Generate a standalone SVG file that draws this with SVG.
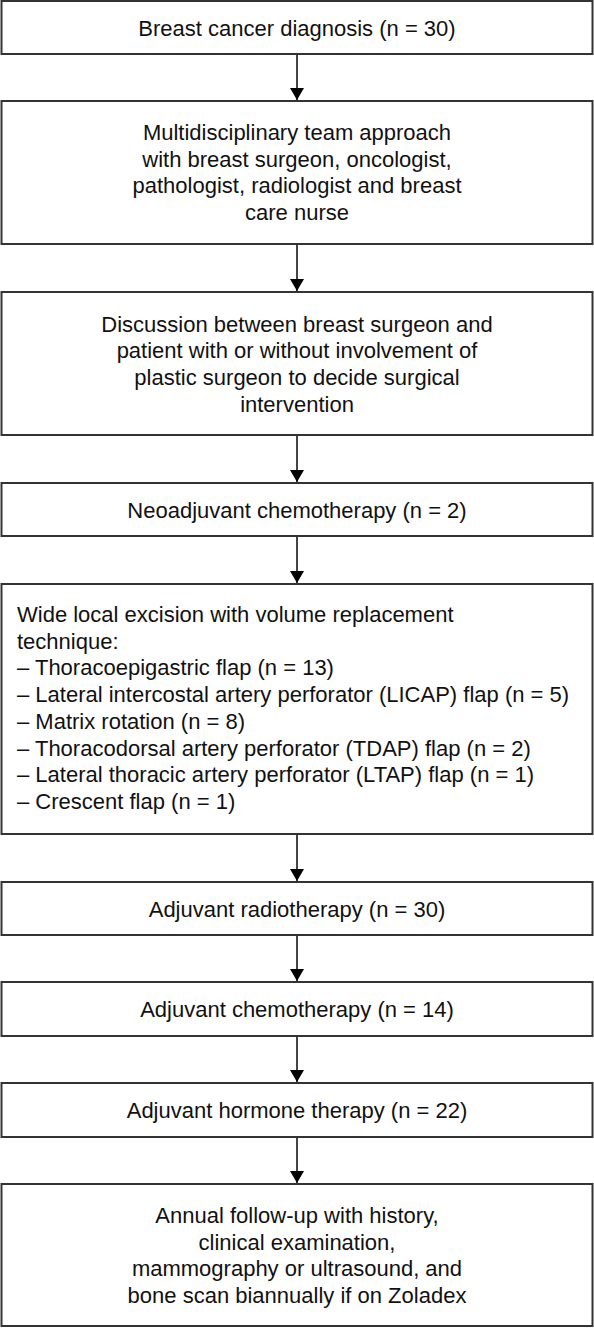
<svg xmlns="http://www.w3.org/2000/svg" width="594" height="1328" viewBox="0 0 594 1328">
  <defs>
    <style>
      .box { fill: #ffffff; stroke: #333333; stroke-width: 2; }
      .t { font-family: "Liberation Sans", Arial, sans-serif; font-size: 22px; fill: #111111; }
      .c { text-anchor: middle; }
      .conn { stroke: #444444; stroke-width: 2; fill: none; }
    </style>
    <marker id="arrow" markerUnits="userSpaceOnUse" markerWidth="12" markerHeight="14" viewBox="0 0 12 14" refX="12" refY="7" orient="auto">
      <path d="M0,0 L12,7 L0,14 z" fill="#000000"/>
    </marker>
  </defs>
  <rect width="594" height="1328" fill="#ffffff"/>

  <g id="connectors">
    <line class="conn" x1="297" y1="55" x2="297" y2="100" marker-end="url(#arrow)"/>
    <line class="conn" x1="297" y1="245" x2="297" y2="291" marker-end="url(#arrow)"/>
    <line class="conn" x1="297" y1="436" x2="297" y2="482" marker-end="url(#arrow)"/>
    <line class="conn" x1="297" y1="537" x2="297" y2="583" marker-end="url(#arrow)"/>
    <line class="conn" x1="297" y1="835" x2="297" y2="881" marker-end="url(#arrow)"/>
    <line class="conn" x1="297" y1="936" x2="297" y2="981" marker-end="url(#arrow)"/>
    <line class="conn" x1="297" y1="1037" x2="297" y2="1082" marker-end="url(#arrow)"/>
    <line class="conn" x1="297" y1="1138" x2="297" y2="1183" marker-end="url(#arrow)"/>
  </g>

  <g id="node1">
    <rect class="box" x="1.5" y="1" width="591" height="53"/>
    <text class="t c" x="297" y="35.5">Breast cancer diagnosis (n = 30)</text>
  </g>

  <g id="node2">
    <rect class="box" x="1.5" y="101" width="591" height="143"/>
    <text class="t c" x="297" y="140">Multidisciplinary team approach</text>
    <text class="t c" x="297" y="166.7">with breast surgeon, oncologist,</text>
    <text class="t c" x="297" y="193.4">pathologist, radiologist and breast</text>
    <text class="t c" x="297" y="220.1">care nurse</text>
  </g>

  <g id="node3">
    <rect class="box" x="1.5" y="292" width="591" height="143"/>
    <text class="t c" x="297" y="331.5">Discussion between breast surgeon and</text>
    <text class="t c" x="297" y="358.2">patient with or without involvement of</text>
    <text class="t c" x="297" y="384.9">plastic surgeon to decide surgical</text>
    <text class="t c" x="297" y="411.6">intervention</text>
  </g>

  <g id="node4">
    <rect class="box" x="1.5" y="483" width="591" height="53"/>
    <text class="t c" x="297" y="517.5">Neoadjuvant chemotherapy (n = 2)</text>
  </g>

  <g id="node5">
    <rect class="box" x="1.5" y="584" width="591" height="250"/>
    <text class="t" x="17" y="622">Wide local excision with volume replacement</text>
    <text class="t" x="17" y="648.7">technique:</text>
    <text class="t" x="17" y="675.4">– Thoracoepigastric flap (n = 13)</text>
    <text class="t" x="17" y="702.1">– Lateral intercostal artery perforator (LICAP) flap (n = 5)</text>
    <text class="t" x="17" y="728.8">– Matrix rotation (n = 8)</text>
    <text class="t" x="17" y="755.5">– Thoracodorsal artery perforator (TDAP) flap (n = 2)</text>
    <text class="t" x="17" y="782.2">– Lateral thoracic artery perforator (LTAP) flap (n = 1)</text>
    <text class="t" x="17" y="808.9">– Crescent flap (n = 1)</text>
  </g>

  <g id="node6">
    <rect class="box" x="1.5" y="882" width="591" height="53"/>
    <text class="t c" x="297" y="916.5">Adjuvant radiotherapy (n = 30)</text>
  </g>

  <g id="node7">
    <rect class="box" x="1.5" y="982" width="591" height="54"/>
    <text class="t c" x="297" y="1017">Adjuvant chemotherapy (n = 14)</text>
  </g>

  <g id="node8">
    <rect class="box" x="1.5" y="1083" width="591" height="54"/>
    <text class="t c" x="297" y="1118">Adjuvant hormone therapy (n = 22)</text>
  </g>

  <g id="node9">
    <rect class="box" x="1.5" y="1184" width="591" height="142"/>
    <text class="t c" x="297" y="1223">Annual follow-up with history,</text>
    <text class="t c" x="297" y="1249.7">clinical examination,</text>
    <text class="t c" x="297" y="1276.4">mammography or ultrasound, and</text>
    <text class="t c" x="297" y="1303.1">bone scan biannually if on Zoladex</text>
  </g>
</svg>
